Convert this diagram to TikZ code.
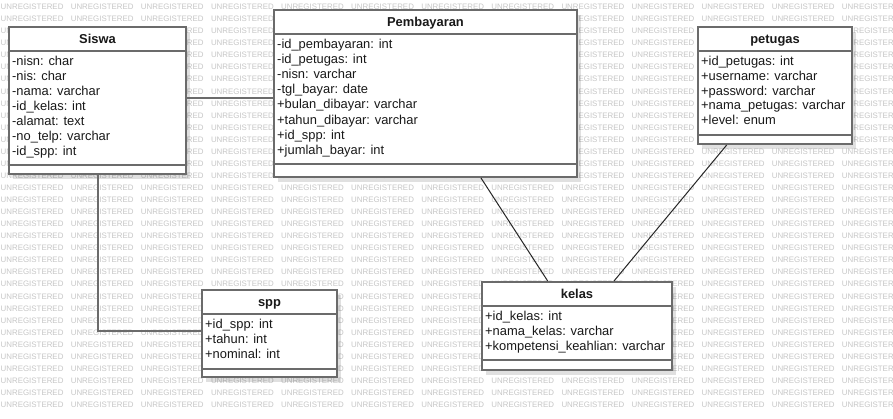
\documentclass[tikz,border=0pt]{standalone}
\usepackage{fontspec}
\setmainfont{Liberation Sans}
\usetikzlibrary{calc,shadows}
\tikzset{
  umlbox/.style={draw=black!58, line width=2pt, fill=white, inner sep=0pt,
    drop shadow={shadow xshift=4pt, shadow yshift=-5pt, opacity=0.12, fill=black}},
  sepline/.style={draw=black!58, line width=2pt},
  hdr/.style={font=\bfseries\fontsize{12.9}{15}\selectfont, text=black!90, anchor=base, inner sep=0pt},
  attr/.style={font=\fontsize{12.9}{15}\selectfont, text=black!90, anchor=base west, inner sep=0pt},
  wm/.style={font=\fontsize{7.9}{8}\selectfont, text=black!22, anchor=base west, inner sep=0pt},
  orth/.style={draw=black!58, line width=2pt},
  diag/.style={draw=black!85, line width=1pt},
}
\begin{document}
\begin{tikzpicture}[x=1pt,y=-1pt]
\useasboundingbox[fill=white] (0,0) rectangle (893,418);
% watermark
\foreach \r in {0,...,33}{\foreach \c in {0,...,12}{
  \node[wm] (wm-\r-\c) at ({0.5+70.1*\c},{9.6+12.06*\r}) {UNREGISTERED};}}

% boxes
\node[umlbox, minimum width=177pt, minimum height=147pt] (siswa) at (97.5,100.5) {};
\node[umlbox, minimum width=303pt, minimum height=167pt] (pemb) at (425.5,93.5) {};
\node[umlbox, minimum width=154pt, minimum height=117pt] (petugas) at (775,85.5) {};
\node[umlbox, minimum width=135pt, minimum height=87pt] (spp) at (269.5,333.5) {};
\node[umlbox, minimum width=190pt, minimum height=88pt] (kelas) at (577,326) {};

% headers
\node[hdr] (siswa-h) at ($(siswa.north)+(0,17)$) {Siswa};
\node[hdr] (pemb-h) at ($(pemb.north)+(0,17)$) {Pembayaran};
\node[hdr] (petugas-h) at ($(petugas.north)+(0,17)$) {petugas};
\node[hdr] (spp-h) at ($(spp.north)+(0,17)$) {spp};
\node[hdr] (kelas-h) at ($(kelas.north)+(0,17)$) {kelas};

% separator lines
\foreach \b in {siswa,pemb,petugas,spp,kelas}{
  \draw[sepline] ($(\b.north west)+(0,24.5)$) -- ($(\b.north east)+(0,24.5)$);}
\draw[sepline] ($(siswa.south west)+(0,-10)$) -- ($(siswa.south east)+(0,-10)$);
\draw[sepline] ($(pemb.south west)+(0,-14.5)$) -- ($(pemb.south east)+(0,-14.5)$);
\draw[sepline] ($(petugas.south west)+(0,-10)$) -- ($(petugas.south east)+(0,-10)$);
\draw[sepline] ($(spp.south west)+(0,-9.5)$) -- ($(spp.south east)+(0,-9.5)$);
\draw[sepline] ($(kelas.south west)+(0,-11)$) -- ($(kelas.south east)+(0,-11)$);

% attributes
\foreach \t [count=\i from 0] in {{-nisn: char},{-nis: char},{-nama: varchar},{-id\_kelas: int},{-alamat: text},{-no\_telp: varchar},{-id\_spp: int}}
  \node[attr] (siswa-a\i) at ($(siswa.north west)+(4,{39.5+15*\i})$) {\t};
\foreach \t [count=\i from 0] in {{-id\_pembayaran: int},{-id\_petugas: int},{-nisn: varchar},{-tgl\_bayar: date},{+bulan\_dibayar: varchar},{+tahun\_dibayar: varchar},{+id\_spp: int},{+jumlah\_bayar: int}}
  \node[attr] (pemb-a\i) at ($(pemb.north west)+(4,{39.5+15.1*\i})$) {\t};
\foreach \t [count=\i from 0] in {{+id\_petugas: int},{+username: varchar},{+password: varchar},{+nama\_petugas: varchar},{+level: enum}}
  \node[attr] (petugas-a\i) at ($(petugas.north west)+(4,{39.5+14.8*\i})$) {\t};
\foreach \t [count=\i from 0] in {{+id\_spp: int},{+tahun: int},{+nominal: int}}
  \node[attr] (spp-a\i) at ($(spp.north west)+(4,{39.5+15*\i})$) {\t};
\foreach \t [count=\i from 0] in {{+id\_kelas: int},{+nama\_kelas: varchar},{+kompetensi\_keahlian: varchar}}
  \node[attr] (kelas-a\i) at ($(kelas.north west)+(4,{39.5+15*\i})$) {\t};

% connectors
\draw[orth] ([yshift=2.5pt]siswa.east) -- ([yshift=2.5pt]siswa.east -| pemb.west);
\draw[orth] (siswa.south) |- ([yshift=3pt]spp.west);
\draw[diag] ([xshift=55.5pt]pemb.south) -- ([xshift=-29.3pt]kelas.north);
\draw[diag] ([xshift=-48.3pt]petugas.south) -- ([xshift=37pt]kelas.north);
\end{tikzpicture}
\end{document}
